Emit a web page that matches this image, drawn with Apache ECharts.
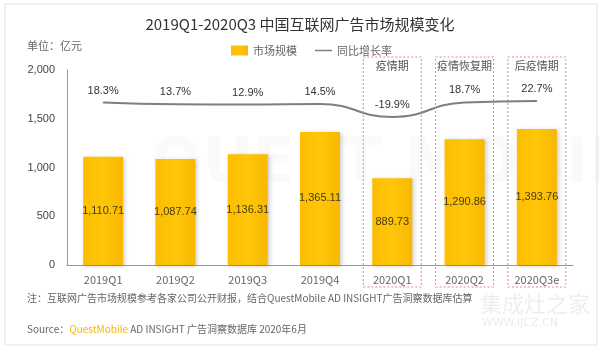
<!DOCTYPE html>
<html>
<head>
<meta charset="utf-8">
<script src="https://cdn.jsdelivr.net/npm/echarts@6/dist/echarts.min.js"></script>
<style>
  html, body { margin: 0; padding: 0; background: #fff; }
  #chart { width: 600px; height: 348px; }
</style>
</head>
<body>
<div id="chart"></div>
<script>
// Quarterly internet advertising market size (亿元) and YoY growth (%)
const categories = ['2019Q1', '2019Q2', '2019Q3', '2019Q4', '2020Q1', '2020Q2', '2020Q3e'];
const marketSize = [1110.71, 1087.74, 1136.31, 1365.11, 889.73, 1290.86, 1393.76];
const growthRate = [18.3, 13.7, 12.9, 14.5, -19.9, 18.7, 22.7];
const yTicks = [0, 500, 1000, 1500, 2000];
// Highlighted periods: category index -> caption
const periods = [
  { index: 4, text: '疫情期' },
  { index: 5, text: '疫情恢复期' },
  { index: 6, text: '后疫情期' }
];

const FONT = '"Noto Sans CJK SC", "Noto Sans", sans-serif';
const fmt = v => Number(v).toLocaleString('en-US', { minimumFractionDigits: 2, maximumFractionDigits: 2 });

const chart = echarts.init(document.getElementById('chart'), null, { renderer: 'canvas' });

const option = {
  backgroundColor: '#fff',
  animation: false,
  textStyle: { fontFamily: FONT },
  title: {
    text: '2019Q1-2020Q3 中国互联网广告市场规模变化',
    left: 'center',
    top: 12,
    textStyle: { fontFamily: FONT, fontSize: 15, fontWeight: 'normal', color: '#333' }
  },
  legend: {
    left: 226,
    top: 40,
    itemWidth: 17,
    itemHeight: 10,
    itemGap: 18,
    textStyle: { fontFamily: FONT, fontSize: 11, color: '#666' },
    data: [
      { name: '市场规模', icon: 'rect' },
      { name: '同比增长率', icon: 'path://M0,0 L34,0 L34,3 L0,3 Z' }
    ]
  },
  grid: { left: 67, right: 27, top: 70, bottom: 83, containLabel: false },
  xAxis: {
    type: 'category',
    data: categories,
    axisLine: { lineStyle: { color: '#999', width: 1 } },
    axisTick: { show: false },
    axisLabel: { fontFamily: FONT, fontSize: 11, color: '#666', margin: 9 }
  },
  yAxis: [
    {
      type: 'value',
      min: yTicks[0],
      max: yTicks[yTicks.length - 1],
      interval: yTicks[1] - yTicks[0],
      axisLine: { show: true, lineStyle: { color: '#999', width: 1 } },
      axisTick: { show: false },
      splitLine: { show: false },
      axisLabel: {
        fontFamily: 'Arial, "Liberation Sans", sans-serif',
        fontSize: 11,
        color: '#444',
        margin: 12,
        formatter: v => Number(v).toLocaleString('en-US')
      }
    },
    {
      // compressed scale keeps the growth curve in the upper band
      type: 'value',
      min: -414,
      max: 105,
      show: false,
      splitLine: { show: false }
    }
  ],
  series: [
    {
      name: '市场规模',
      type: 'bar',
      data: marketSize,
      barWidth: 40,
      itemStyle: {
        color: new echarts.graphic.LinearGradient(0, 0, 1, 0, [
          { offset: 0, color: '#FDBD00' },
          { offset: 0.5, color: '#FFC60A' },
          { offset: 1, color: '#F9B800' }
        ]),
        shadowColor: 'rgba(0,0,0,0.18)',
        shadowBlur: 4,
        shadowOffsetX: 2,
        shadowOffsetY: 1
      },
      label: {
        show: true,
        position: 'inside',
        fontFamily: 'Arial, "Liberation Sans", sans-serif',
        fontSize: 11,
        color: '#4a3a10',
        formatter: p => fmt(p.value)
      },
      z: 2
    },
    {
      name: '同比增长率',
      type: 'line',
      yAxisIndex: 1,
      data: growthRate,
      smooth: 0.5,
      symbol: 'circle',
      symbolSize: 1,
      showSymbol: true,
      lineStyle: { color: '#7f7f7f', width: 2 },
      itemStyle: { color: '#7f7f7f' },
      label: {
        show: true,
        position: 'top',
        distance: 6,
        fontFamily: 'Arial, "Liberation Sans", sans-serif',
        fontSize: 11,
        color: '#333',
        formatter: p => p.value + '%'
      },
      z: 3
    }
  ]
};

chart.setOption(option);

// Decorations: frame, unit, notes, watermark and dotted period boxes
function decorate() {
  const graphics = [
    {
      type: 'rect', silent: true, z: -10,
      shape: { x: 5, y: 4, width: 592, height: 341 },
      style: { fill: 'none', stroke: '#e2e2e2', lineWidth: 1 }
    },
    {
      type: 'text', silent: true, z: -5,
      style: { x: 150, y: 135, text: 'QUEST MOBILE', font: 'bold 62px "DejaVu Sans", sans-serif', fill: 'rgba(0,0,0,0.018)' }
    },
    {
      type: 'text', silent: true,
      style: { x: 27, y: 40, text: '单位：亿元', font: '11px ' + FONT, fill: '#666' }
    },
    {
      type: 'text', silent: true,
      style: { x: 27, y: 293, text: '注：互联网广告市场规模参考各家公司公开财报，结合QuestMobile AD INSIGHT广告洞察数据库估算', font: '10px ' + FONT, fill: '#666' }
    },
    {
      type: 'text', silent: true,
      style: {
        x: 27, y: 324,
        text: '{a|Source：}{b|QuestMobile}{a| AD INSIGHT 广告洞察数据库 2020年6月}',
        rich: {
          a: { font: '10px ' + FONT, fill: '#666' },
          b: { font: '10px ' + FONT, fill: '#F6B800' }
        }
      }
    },
    {
      type: 'text', silent: true, z: 10,
      style: { x: 480, y: 293, text: '集成灶之家', font: '22px ' + FONT, fill: 'rgba(0,0,0,0.07)' }
    },
    {
      type: 'text', silent: true, z: 10,
      style: { x: 482, y: 318, text: 'WWW.IJCZ.CN', font: '11px "DejaVu Sans", sans-serif', fill: 'rgba(0,0,0,0.09)' }
    }
  ];

  periods.forEach(p => {
    const cx = chart.convertToPixel({ xAxisIndex: 0 }, categories[p.index]);
    const w = 58, top = 57, bottom = 287;
    graphics.push({
      type: 'rect', silent: true, z: 20,
      shape: { x: cx - w / 2, y: top, width: w, height: bottom - top },
      style: { fill: 'none', stroke: '#e08a8a', lineWidth: 1, lineDash: [2, 2] }
    });
    graphics.push({
      type: 'text', silent: true, z: 20,
      style: {
        x: cx, y: top + 9, text: p.text,
        font: '11px ' + FONT, fill: '#555',
        textAlign: 'center', textVerticalAlign: 'middle'
      }
    });
  });

  chart.setOption({ graphic: graphics });
}
decorate();
</script>
</body>
</html>
